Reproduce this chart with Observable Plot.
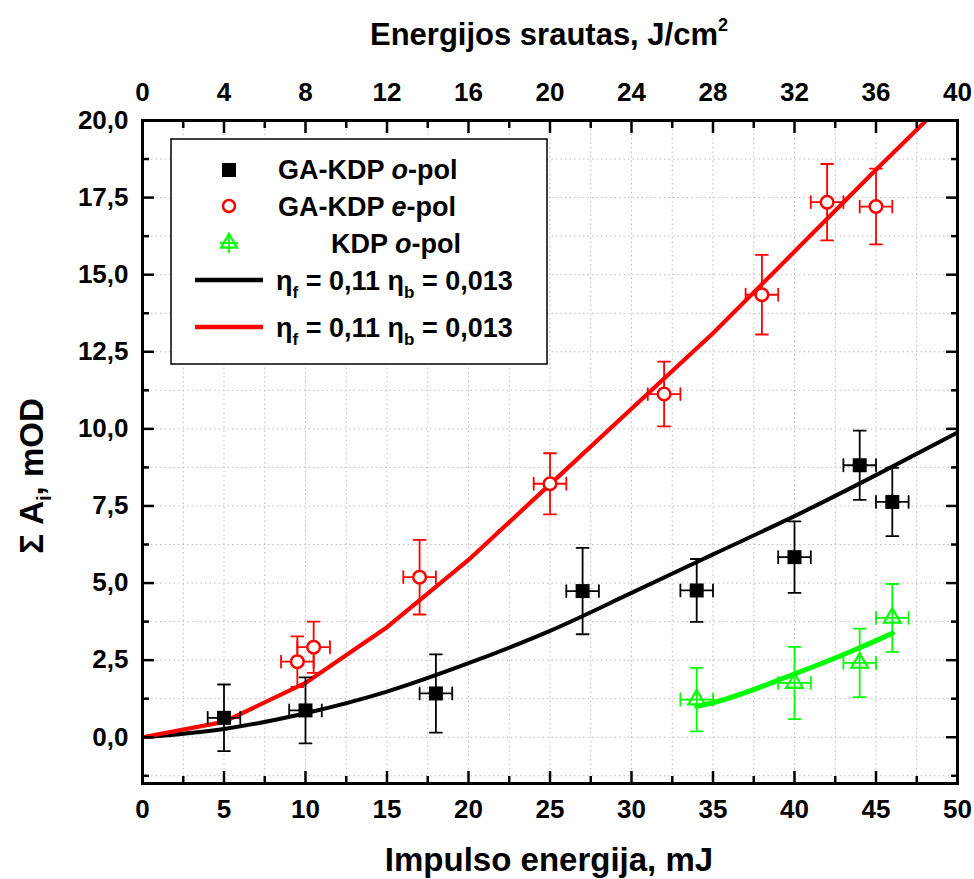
<!DOCTYPE html>
<html>
<head>
<meta charset="utf-8">
<script src="https://cdn.jsdelivr.net/npm/d3@7"></script>
<script src="https://cdn.jsdelivr.net/npm/@observablehq/plot@0.6"></script>
<style>
  html, body { margin: 0; padding: 0; background: white; }
  #chart { width: 974px; height: 879px; }
</style>
</head>
<body>
<div id="chart"></div>
<script>
// ---- tick definitions ----
const xMajorTicks = [0, 5, 10, 15, 20, 25, 30, 35, 40, 45, 50];
const xMinorTicks = [2.5, 7.5, 12.5, 17.5, 22.5, 27.5, 32.5, 37.5, 42.5, 47.5];
const topTickLabels = [0, 4, 8, 12, 16, 20, 24, 28, 32, 36, 40];
const yMajorTicks = [0, 2.5, 5, 7.5, 10, 12.5, 15, 17.5, 20];
const yMinorTicks = [-1.25, 1.25, 3.75, 6.25, 8.75, 11.25, 13.75, 16.25, 18.75];
const xGrid = [2.5, 5, 7.5, 10, 12.5, 15, 17.5, 20, 22.5, 25, 27.5, 30, 32.5, 35, 37.5, 40, 42.5, 45, 47.5];
const yGrid = [-1.25, 0, 1.25, 2.5, 3.75, 5, 6.25, 7.5, 8.75, 10, 11.25, 12.5, 13.75, 15, 16.25, 17.5, 18.75];

// ---- GA-KDP o-pol (black squares) ----
const blackX = [5, 10, 18, 27, 34, 40, 44, 46];
const blackY = [0.63, 0.87, 1.42, 4.74, 4.76, 5.84, 8.82, 7.63];
const blackErrY = [1.08, 1.07, 1.27, 1.40, 1.02, 1.16, 1.12, 1.11];
const blackErrX = [1, 1, 1, 1, 1, 1, 1, 1];

// ---- GA-KDP e-pol (red circles) ----
const redX = [9.5, 10.5, 17, 25, 32, 38, 42, 45];
const redY = [2.45, 2.92, 5.19, 8.22, 11.13, 14.35, 17.35, 17.21];
const redErrY = [0.82, 0.83, 1.21, 0.99, 1.05, 1.29, 1.24, 1.23];
const redErrX = [1, 1, 1, 1, 1, 1, 1, 1];

// ---- KDP o-pol (green triangles) ----
const greenX = [34, 40, 44, 46];
const greenY = [1.22, 1.76, 2.41, 3.87];
const greenErrY = [1.03, 1.17, 1.11, 1.10];
const greenErrX = [1, 1, 1, 1];

// ---- model curves ----
const fitX = [0, 5, 10, 15, 20, 25, 30, 35, 40, 45, 50];
const blackFit = [0, 0.27, 0.78, 1.48, 2.4, 3.45, 4.68, 5.93, 7.17, 8.5, 9.88];
const redFit = [0, 0.5, 1.76, 3.57, 5.75, 8.2, 10.65, 13.1, 15.75, 18.4, 21.0];
const greenFitX = [34, 35, 40, 44, 46];
const greenFit = [1.0, 1.12, 2.05, 2.9, 3.37];

const FONT = "'Liberation Sans', Arial, Helvetica, sans-serif";

function pts(xs, ys, ey, ex) {
  return xs.map((x, i) => ({x, y: ys[i], ey: ey ? ey[i] : 0, ex: ex ? ex[i] : 0}));
}
const blackPts = pts(blackX, blackY, blackErrY, blackErrX);
const redPts = pts(redX, redY, redErrY, redErrX);
const greenPts = pts(greenX, greenY, greenErrY, greenErrX);
const blackCurve = pts(fitX, blackFit);
const redCurve = pts(fitX, redFit);
const greenCurve = pts(greenFitX, greenFit);

const hCap = {draw(ctx, l) { ctx.moveTo(-l / 2, 0); ctx.lineTo(l / 2, 0); }};
const vCap = {draw(ctx, l) { ctx.moveTo(0, -l / 2); ctx.lineTo(0, l / 2); }};

function errorMarks(data, color) {
  const sw = 1.8, cap = 12;
  return [
    Plot.ruleX(data, {x: "x", y1: d => d.y - d.ey, y2: d => d.y + d.ey, stroke: color, strokeWidth: sw}),
    Plot.ruleY(data, {y: "y", x1: d => d.x - d.ex, x2: d => d.x + d.ex, stroke: color, strokeWidth: sw}),
    Plot.vector(data, {x: "x", y: d => d.y + d.ey, length: cap, shape: hCap, anchor: "start", stroke: color, strokeWidth: sw}),
    Plot.vector(data, {x: "x", y: d => d.y - d.ey, length: cap, shape: hCap, anchor: "start", stroke: color, strokeWidth: sw}),
    Plot.vector(data, {x: d => d.x + d.ex, y: "y", length: cap, shape: vCap, anchor: "start", stroke: color, strokeWidth: sw}),
    Plot.vector(data, {x: d => d.x - d.ex, y: "y", length: cap, shape: vCap, anchor: "start", stroke: color, strokeWidth: sw})
  ];
}

const axisStyle = {fontSize: 26, fontWeight: "bold", fontFamily: FONT, strokeWidth: 2.5, label: null};

const chart = Plot.plot({
  width: 974,
  height: 879,
  marginLeft: 142,
  marginRight: 17,
  marginTop: 120,
  marginBottom: 96,
  x: {domain: [0, 50]},
  y: {domain: [-1.5, 20]},
  style: {background: "white", color: "black", fontFamily: FONT, fontWeight: "bold", fontSize: "26px"},
  marks: [
    Plot.ruleX(xGrid, {x: d => d, stroke: "#bdbdbd", strokeWidth: 1, strokeDasharray: "1.5,3"}),
    Plot.ruleY(yGrid, {y: d => d, stroke: "#bdbdbd", strokeWidth: 1, strokeDasharray: "1.5,3"}),
    Plot.line(blackCurve, {x: "x", y: "y", stroke: "black", strokeWidth: 4, curve: "monotone-x", clip: true}),
    Plot.line(redCurve, {x: "x", y: "y", stroke: "#ff0000", strokeWidth: 4.2, curve: "linear", clip: true}),
    Plot.line(greenCurve, {x: "x", y: "y", stroke: "#00ff00", strokeWidth: 5, curve: "monotone-x", clip: true}),
    ...errorMarks(blackPts, "black"),
    ...errorMarks(redPts, "#ff0000"),
    ...errorMarks(greenPts, "#00ff00"),
    Plot.dot(blackPts, {x: "x", y: "y", symbol: "square", r: 7.9, fill: "black", stroke: "none"}),
    Plot.dot(redPts, {x: "x", y: "y", symbol: "circle", r: 6.3, fill: "white", stroke: "#ff0000", strokeWidth: 2.5}),
    Plot.dot(greenPts, {x: "x", y: "y", symbol: "triangle", r: 6.2, fill: "none", stroke: "#00ff00", strokeWidth: 2.2}),
    Plot.frame({stroke: "black", strokeWidth: 3}),
    // bottom axis
    Plot.axisX(xMajorTicks, {...axisStyle, anchor: "bottom", tickSize: -12, tickPadding: 28, tickFormat: d => String(d)}),
    Plot.axisX(xMinorTicks, {...axisStyle, anchor: "bottom", tickSize: -7, fill: "none"}),
    // top axis (fluence J/cm2)
    Plot.axisX(xMajorTicks, {...axisStyle, anchor: "top", tickSize: -12, tickPadding: 32, tickFormat: d => String(topTickLabels[xMajorTicks.indexOf(d)])}),
    Plot.axisX(xMinorTicks, {...axisStyle, anchor: "top", tickSize: -7, fill: "none"}),
    // left axis
    Plot.axisY(yMajorTicks, {...axisStyle, anchor: "left", tickSize: -12, tickPadding: 26, tickFormat: d => d.toFixed(1).replace(".", ",")}),
    Plot.axisY(yMinorTicks, {...axisStyle, anchor: "left", tickSize: -7, fill: "none"}),
    // right axis (ticks only)
    Plot.axisY(yMajorTicks, {...axisStyle, anchor: "right", tickSize: -12, fill: "none"}),
    Plot.axisY(yMinorTicks, {...axisStyle, anchor: "right", tickSize: -7, fill: "none"})
  ]
});

document.getElementById("chart").appendChild(chart);

// ---- titles and legend (text drawn as SVG text) ----
const svg = d3.select(chart);
const g = svg.append("g").attr("font-family", FONT).attr("font-weight", "bold").attr("fill", "black");

// bottom title
g.append("text").attr("x", 549).attr("y", 871).attr("text-anchor", "middle").attr("font-size", 33)
  .text("Impulso energija, mJ");
// top title
const tt = g.append("text").attr("x", 549).attr("y", 45).attr("text-anchor", "middle").attr("font-size", 31);
tt.append("tspan").text("Energijos srautas, J/cm");
tt.append("tspan").attr("font-size", 18).attr("dy", -14).text("2");
// y title
const yt = g.append("text").attr("transform", "translate(43,476) rotate(-90)").attr("text-anchor", "middle").attr("font-size", 33);
yt.append("tspan").text("\u03A3 A");
yt.append("tspan").attr("font-size", 20).attr("dy", 8).text("i");
yt.append("tspan").attr("dy", -8).text(", mOD");

// legend
const lg = g.append("g").attr("text-anchor", "start");
lg.append("rect").attr("x", 171).attr("y", 139).attr("width", 376).attr("height", 225)
  .attr("fill", "white").attr("stroke", "black").attr("stroke-width", 1.5);
// symbols
lg.append("rect").attr("x", 222).attr("y", 163).attr("width", 14).attr("height", 14).attr("fill", "black");
lg.append("circle").attr("cx", 229).attr("cy", 206).attr("r", 6).attr("fill", "white").attr("stroke", "#ff0000").attr("stroke-width", 2.5);
lg.append("path").attr("d", d3.symbol(d3.symbolTriangle, 110)()).attr("transform", "translate(229,243)")
  .attr("fill", "none").attr("stroke", "#00ff00").attr("stroke-width", 2.2);
lg.append("path").attr("d", "M229,233V253M220,243H238").attr("stroke", "#00ff00").attr("stroke-width", 1.8);
lg.append("line").attr("x1", 195).attr("x2", 263).attr("y1", 280).attr("y2", 280).attr("stroke", "black").attr("stroke-width", 4.5);
lg.append("line").attr("x1", 195).attr("x2", 263).attr("y1", 327).attr("y2", 327).attr("stroke", "#ff0000").attr("stroke-width", 4.5);

function polRow(x, y, pre, it) {
  const t = lg.append("text").attr("x", x).attr("y", y).attr("font-size", 27).attr("text-anchor", "start");
  t.append("tspan").text(pre);
  t.append("tspan").attr("font-style", "italic").text(it);
  t.append("tspan").text("-pol");
}
polRow(278, 179, "GA-KDP ", "o");
polRow(278, 216, "GA-KDP ", "e");
polRow(331, 253, "KDP ", "o");

function etaRow(y) {
  const t = lg.append("text").attr("x", 276).attr("y", y).attr("font-size", 27).attr("text-anchor", "start");
  t.append("tspan").text("\u03B7");
  t.append("tspan").attr("font-size", 17).attr("dy", 8).text("f");
  t.append("tspan").attr("dy", -8).text(" = 0,11 \u03B7");
  t.append("tspan").attr("font-size", 17).attr("dy", 8).text("b");
  t.append("tspan").attr("dy", -8).text(" = 0,013");
}
etaRow(290);
etaRow(337);
</script>
</body>
</html>
